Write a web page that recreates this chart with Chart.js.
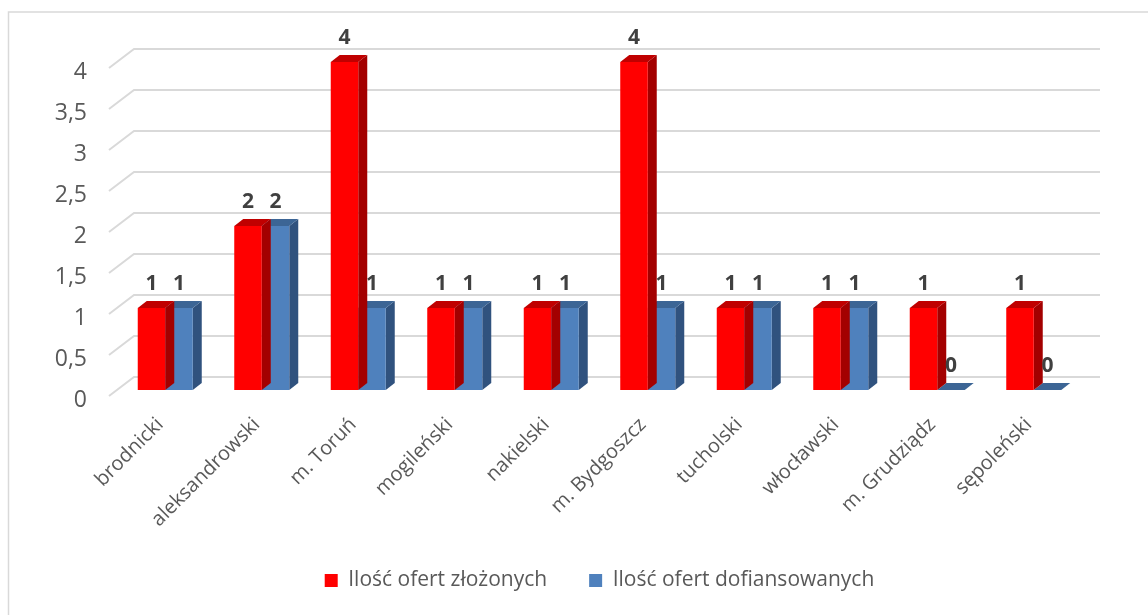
<!DOCTYPE html>
<html>
<head>
<meta charset="utf-8">
<script src="https://cdn.jsdelivr.net/npm/chart.js@4.4.1/dist/chart.umd.min.js"></script>
<style>
  html, body { margin: 0; padding: 0; background: #fff; }
  #wrap { width: 1148px; height: 615px; }
</style>
</head>
<body>
<div id="wrap"><canvas id="chart"></canvas></div>
<script>
const categories = ["brodnicki", "aleksandrowski", "m. Toruń", "mogileński", "nakielski", "m. Bydgoszcz", "tucholski", "włocławski", "m. Grudziądz", "sępoleński"]
const submitted = [1, 2, 4, 1, 1, 4, 1, 1, 1, 1]
const funded = [1, 2, 1, 1, 1, 1, 1, 1, 0, 0]
const seriesNames = ["Ilość ofert złożonych", "Ilość ofert dofiansowanych"]
const yTicks = [0, 0.5, 1, 1.5, 2, 2.5, 3, 3.5, 4]

// front, top and side colours of the fake 3D columns
const faces = [
  { front: "#FF0000", top: "#C00000", side: "#A30000" },
  { front: "#4F81BD", top: "#3C6595", side: "#30527E" }
]
const DX = 9
const DY = 7
const FONT = "'Open Sans', 'DejaVu Sans', sans-serif"

const depth3d = {
  id: "depth3d",
  beforeDraw(chart) {
    const { ctx, chartArea } = chart
    const y = chart.scales.y
    ctx.save()
    // outer frame (only top/left visible)
    ctx.strokeStyle = "#D9D9D9"
    ctx.lineWidth = 1.5
    ctx.strokeRect(8.5, 12, 1400, 900)
    // back wall gridlines with the floor diagonal on the left
    ctx.lineWidth = 2
    yTicks.forEach(v => {
      const py = y.getPixelForValue(v)
      ctx.beginPath()
      ctx.moveTo(chartArea.left - 8, py + 6)
      ctx.lineTo(chartArea.left + 17, py - 13)
      ctx.lineTo(chartArea.right + 18, py - 13)
      ctx.stroke()
    })
    ctx.restore()
  },
  beforeDatasetDraw(chart, args) {
    const { ctx } = chart
    const f = faces[args.index]
    const meta = chart.getDatasetMeta(args.index)
    ctx.save()
    meta.data.forEach(bar => {
      const l = bar.x - bar.width / 2
      const r = bar.x + bar.width / 2
      const t = bar.y
      const b = bar.base
      ctx.fillStyle = f.side
      ctx.beginPath()
      ctx.moveTo(r, b)
      ctx.lineTo(r + DX, b - DY)
      ctx.lineTo(r + DX, t - DY)
      ctx.lineTo(r, t)
      ctx.closePath()
      ctx.fill()
      ctx.fillStyle = f.top
      ctx.beginPath()
      ctx.moveTo(l, t)
      ctx.lineTo(l + DX, t - DY)
      ctx.lineTo(r + DX, t - DY)
      ctx.lineTo(r, t)
      ctx.closePath()
      ctx.fill()
    })
    ctx.restore()
  },
  afterDatasetsDraw(chart) {
    const { ctx } = chart
    ctx.save()
    ctx.fillStyle = "#404040"
    ctx.font = "bold 21px " + FONT
    ctx.textAlign = "center"
    ctx.textBaseline = "middle"
    chart.data.datasets.forEach((ds, i) => {
      chart.getDatasetMeta(i).data.forEach((bar, j) => {
        ctx.fillText(String(ds.data[j]), bar.x, bar.y - 24)
      })
    })
    ctx.restore()
  }
}

new Chart(document.getElementById("chart"), {
  type: "bar",
  data: {
    labels: categories,
    datasets: [
      { label: seriesNames[0], data: submitted, backgroundColor: faces[0].front },
      { label: seriesNames[1], data: funded, backgroundColor: faces[1].front }
    ]
  },
  options: {
    responsive: true,
    maintainAspectRatio: false,
    animation: false,
    categoryPercentage: 0.57,
    barPercentage: 1,
    layout: { padding: { left: 54, right: 66, top: 62, bottom: 14 } },
    plugins: {
      legend: {
        position: "bottom",
        fullSize: false,
        labels: {
          boxWidth: 13,
          boxHeight: 13,
          padding: 42,
          color: "#595959",
          font: { family: FONT, size: 21 }
        }
      },
      tooltip: { enabled: false }
    },
    scales: {
      x: {
        grid: { display: false },
        border: { display: false },
        ticks: {
          autoSkip: false,
          maxRotation: 45,
          minRotation: 45,
          padding: 15,
          labelOffset: -5,
          color: "#595959",
          font: { family: FONT, size: 20 }
        },
        afterFit(axis) {
          axis.height = 138
          axis.paddingLeft = 0
          axis.paddingRight = 0
        }
      },
      y: {
        min: 0,
        max: 4,
        grid: { display: false, drawTicks: false },
        border: { display: false },
        afterBuildTicks(axis) { axis.ticks = yTicks.map(v => ({ value: v })) },
        afterFit(axis) { axis.width = 63 },
        ticks: {
          padding: 30,
          labelOffset: 10,
          color: "#595959",
          font: { family: FONT, size: 23 },
          callback: v => String(v).replace(".", ",")
        }
      }
    }
  },
  plugins: [depth3d]
})
</script>
</body>
</html>
